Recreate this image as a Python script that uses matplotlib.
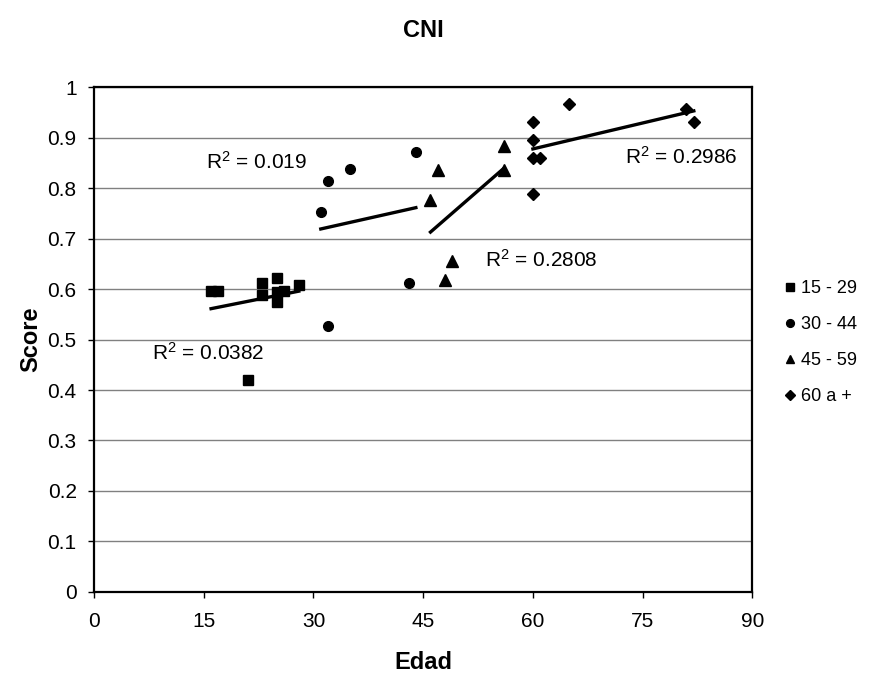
import numpy as np
import matplotlib.pyplot as plt
from matplotlib.lines import Line2D

plt.rcParams['font.family'] = ['Liberation Sans', 'DejaVu Sans']
plt.rcParams['mathtext.default'] = 'regular'

# datos por grupo de edad
edad_15_29 = [16, 17, 21, 23, 23, 25, 25, 25, 26, 28]
score_15_29 = [0.597, 0.597, 0.42, 0.612, 0.588, 0.622, 0.595, 0.575, 0.597, 0.607]

edad_30_44 = [31, 32, 32, 35, 43, 44]
score_30_44 = [0.752, 0.814, 0.527, 0.838, 0.612, 0.871]

edad_45_59 = [46, 47, 48, 49, 56, 56]
score_45_59 = [0.776, 0.836, 0.618, 0.655, 0.883, 0.836]

edad_60 = [60, 60, 60, 61, 60, 65, 81, 82]
score_60 = [0.931, 0.895, 0.86, 0.86, 0.788, 0.966, 0.956, 0.931]

grupos = ['15 - 29', '30 - 44', '45 - 59', '60 a +']
r2_textos = ['R$^2$ = 0.0382', 'R$^2$ = 0.019', 'R$^2$ = 0.2808', 'R$^2$ = 0.2986']
r2_pos = [(7.9, 0.473), (15.3, 0.851), (53.4, 0.657), (72.6, 0.861)]

marcadores = ['s', 'o', '^', 'D']
tamanos = [7, 7, 8, 6.5]

fig = plt.figure(figsize=(8.83, 6.89), dpi=100)
ax = fig.add_axes([0.1065, 0.1408, 0.7455, 0.7329])

series = [(edad_15_29, score_15_29), (edad_30_44, score_30_44),
          (edad_45_59, score_45_59), (edad_60, score_60)]

for (x, y), m, s in zip(series, marcadores, tamanos):
    ax.plot(x, y, linestyle='none', marker=m, markersize=s, color='black', zorder=3)
    # linea de tendencia
    p = np.polyfit(x, y, 1)
    xs = np.array([min(x), max(x)])
    ax.plot(xs, np.polyval(p, xs), color='black', linewidth=2.4, zorder=4)

for t, (tx, ty) in zip(r2_textos, r2_pos):
    ax.text(tx, ty, t, fontsize=15, ha='left', va='center', zorder=5)

ax.set_xlim(0, 90)
ax.set_ylim(0, 1)
ax.set_xticks(np.arange(0, 91, 15))
ax.set_yticks(np.arange(0, 1.01, 0.1))
ax.set_yticklabels(['0', '0.1', '0.2', '0.3', '0.4', '0.5', '0.6', '0.7', '0.8', '0.9', '1'])
ax.tick_params(labelsize=15, direction='out', length=4.5, width=1, pad=8)
ax.tick_params(axis='x', pad=10)
ax.yaxis.grid(True, color='#808080', linewidth=1)
ax.set_axisbelow(True)
for sp in ax.spines.values():
    sp.set_linewidth(1.6)

ax.set_title('CNI', fontsize=17, fontweight='bold', pad=36)
ax.set_xlabel('Edad', fontsize=17, fontweight='bold', labelpad=14)
ax.set_ylabel('Score', fontsize=17, fontweight='bold', labelpad=4)

handles = [Line2D([], [], linestyle='none', marker=m, markersize=s * 0.8, color='black')
           for m, s in zip(marcadores, tamanos)]
fig.legend(handles, grupos, loc='center left', bbox_to_anchor=(0.866, 0.503),
           frameon=False, fontsize=13, handletextpad=0.1, labelspacing=1.05,
           handlelength=1.0)

fig.savefig('out.png', dpi=100)
